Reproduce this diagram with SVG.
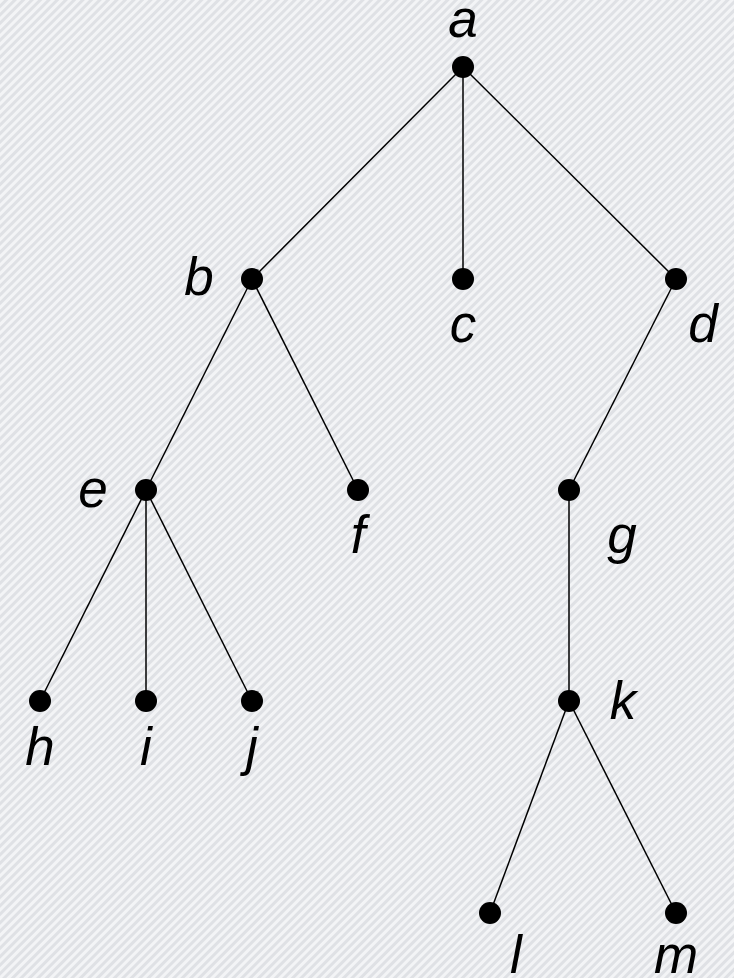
<svg xmlns="http://www.w3.org/2000/svg" width="734" height="978" viewBox="0 0 734 978">
<defs>
<pattern id="bg" width="6" height="6" patternUnits="userSpaceOnUse" patternTransform="rotate(-45)">
<rect width="6" height="6" fill="#dfe1e5"/>
<rect width="6" height="3" fill="#f3f4f6"/>
</pattern>
</defs>
<style>
.e{stroke:#000;stroke-width:1.5;fill:none}
.n{fill:#000}
.t{font-family:"Liberation Sans",Arial,sans-serif;font-style:italic;font-size:53px;fill:#000;text-anchor:middle}
</style>
<rect width="734" height="978" fill="url(#bg)"/>
<g id="edges">
<line class="e" x1="463" y1="67" x2="252" y2="279"/>
<line class="e" x1="463" y1="67" x2="463" y2="279"/>
<line class="e" x1="463" y1="67" x2="676" y2="279"/>
<line class="e" x1="252" y1="279" x2="146" y2="490"/>
<line class="e" x1="252" y1="279" x2="358" y2="490"/>
<line class="e" x1="676" y1="279" x2="569" y2="490"/>
<line class="e" x1="146" y1="490" x2="40" y2="701"/>
<line class="e" x1="146" y1="490" x2="146" y2="701"/>
<line class="e" x1="146" y1="490" x2="252" y2="701"/>
<line class="e" x1="569" y1="490" x2="569" y2="701"/>
<line class="e" x1="569" y1="701" x2="490" y2="913"/>
<line class="e" x1="569" y1="701" x2="676" y2="913"/>
</g>
<g id="a"><circle class="n" cx="463" cy="67" r="11"/><text class="t" x="463" y="37">a</text></g>
<g id="b"><circle class="n" cx="252" cy="279" r="11"/><text class="t" x="199" y="295">b</text></g>
<g id="c"><circle class="n" cx="463" cy="279" r="11"/><text class="t" x="463" y="342">c</text></g>
<g id="d"><circle class="n" cx="676" cy="279" r="11"/><text class="t" x="703" y="342">d</text></g>
<g id="e"><circle class="n" cx="146" cy="490" r="11"/><text class="t" x="93" y="507">e</text></g>
<g id="f"><circle class="n" cx="358" cy="490" r="11"/><text class="t" x="358" y="553">f</text></g>
<g id="g"><circle class="n" cx="569" cy="490" r="11"/><text class="t" x="622" y="553">g</text></g>
<g id="h"><circle class="n" cx="40" cy="701" r="11"/><text class="t" x="40" y="765">h</text></g>
<g id="i"><circle class="n" cx="146" cy="701" r="11"/><text class="t" x="146" y="765">i</text></g>
<g id="j"><circle class="n" cx="252" cy="701" r="11"/><text class="t" x="252" y="765">j</text></g>
<g id="k"><circle class="n" cx="569" cy="701" r="11"/><text class="t" x="623" y="719">k</text></g>
<g id="l"><circle class="n" cx="490" cy="913" r="11"/><text class="t" x="516" y="973">l</text></g>
<g id="m"><circle class="n" cx="676" cy="913" r="11"/><text class="t" x="676" y="973">m</text></g>
</svg>
